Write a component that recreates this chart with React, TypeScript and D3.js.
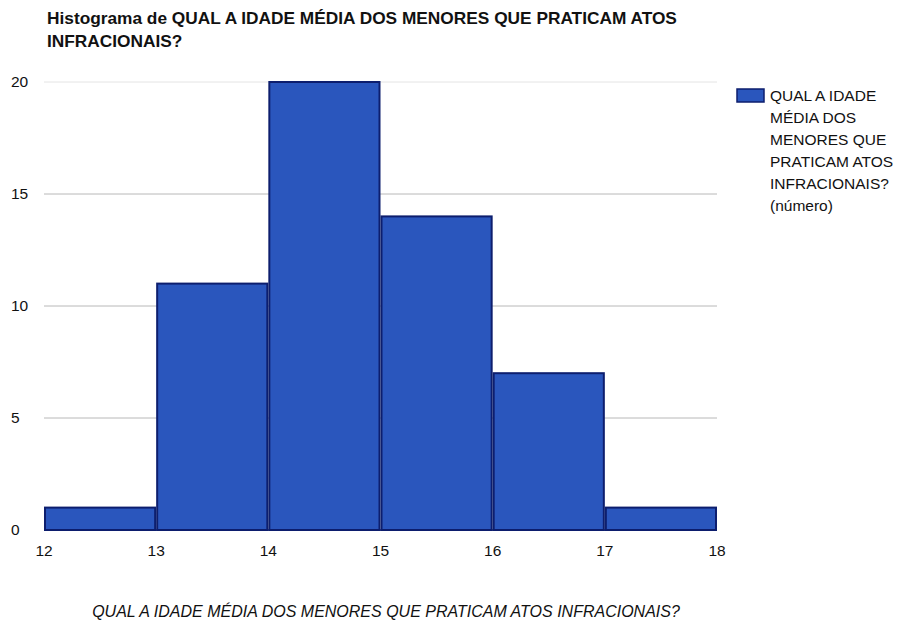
import React from "react";
import * as d3 from "d3";

const binStarts = [12, 13, 14, 15, 16, 17];
const binWidth = 1;
const counts = [1, 11, 20, 14, 7, 1];
const xTicks = [12, 13, 14, 15, 16, 17, 18];
const yTicks = [0, 5, 10, 15, 20];
const titleLines = [
  "Histograma de QUAL A IDADE MÉDIA DOS MENORES QUE PRATICAM ATOS",
  "INFRACIONAIS?",
];
const legendLines = [
  "QUAL A IDADE",
  "MÉDIA DOS",
  "MENORES QUE",
  "PRATICAM ATOS",
  "INFRACIONAIS?",
  "(número)",
];
const xAxisTitle = "QUAL A IDADE MÉDIA DOS MENORES QUE PRATICAM ATOS INFRACIONAIS?";

const W = 905;
const H = 621;
const FONT = "'Liberation Sans Narrow', 'Arial Narrow', 'Liberation Sans', Arial, sans-serif";

export default function App() {
  const x = d3.scaleLinear().domain([12, 18]).range([44, 717]);
  const y = d3.scaleLinear().domain([0, 20]).range([530, 82]);
  return (
    <svg width={W} height={H} style={{ position: "absolute", left: 0, top: 0, background: "#fff" }} fontFamily={FONT}>
      <rect x={0} y={0} width={W} height={H} fill="#fff" />
      {titleLines.map((t, i) => (
        <text key={i} x={47} y={24 + i * 23} fontSize={17.3} fontWeight="bold" fill="#111">
          {t}
        </text>
      ))}
      {yTicks.filter((v) => v > 0).map((v) => (
        <line key={v} x1={x(12)} x2={x(18)} y1={y(v)} y2={y(v)} stroke={v === 20 ? "#e4e4e4" : "#b8b8b8"} strokeWidth={1} />
      ))}
      {yTicks.map((v) => (
        <text key={v} x={11} y={y(v) + 5} fontSize={15.5} fill="#111">
          {v}
        </text>
      ))}
      {binStarts.map((s, i) => (
        <rect
          key={s}
          x={x(s) + 1}
          y={y(counts[i])}
          width={x(s + binWidth) - x(s) - 2}
          height={y(0) - y(counts[i])}
          fill="#2a56bd"
          stroke="#0d1e6e"
          strokeWidth={2}
        />
      ))}
      <line x1={x(12)} x2={x(18)} y1={y(0)} y2={y(0)} stroke="#0d1e6e" strokeWidth={1.5} />
      {xTicks.map((v) => (
        <text key={v} x={x(v)} y={556} fontSize={15.5} textAnchor="middle" fill="#111">
          {v}
        </text>
      ))}
      <text x={386} y={617} fontSize={16} fontStyle="italic" textAnchor="middle" fill="#111">
        {xAxisTitle}
      </text>
      <rect x={737} y={89} width={27} height={13} fill="#2a56bd" stroke="#0d1e6e" strokeWidth={1.5} />
      {legendLines.map((t, i) => (
        <text key={i} x={770} y={101 + i * 22} fontSize={15.5} fill="#111">
          {t}
        </text>
      ))}
    </svg>
  );
}
